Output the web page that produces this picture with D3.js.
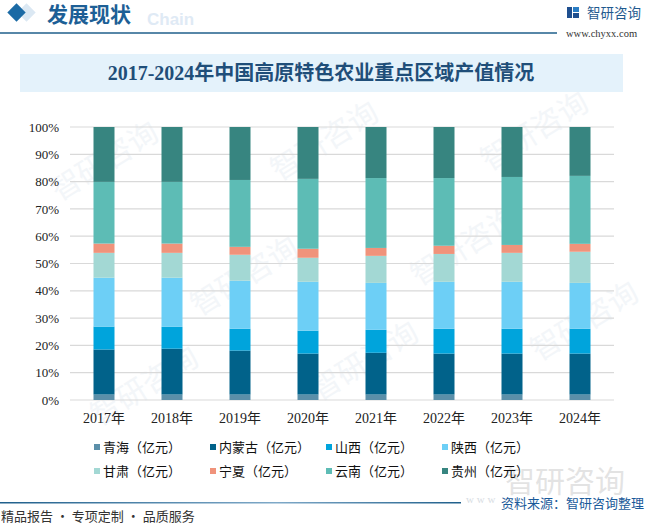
<!DOCTYPE html>
<html><head><meta charset="utf-8">
<script src="https://cdn.jsdelivr.net/npm/d3@7/dist/d3.min.js"></script>
<style>
html,body{margin:0;padding:0;background:#fff;}
svg{display:block;}
</style></head>
<body>
<svg id="chart" width="645" height="526"></svg>
<script>
// ---- data (shares, %) ----
const years = ["2017年","2018年","2019年","2020年","2021年","2022年","2023年","2024年"];
const seriesNames = ["青海（亿元）","内蒙古（亿元）","山西（亿元）","陕西（亿元）","甘肃（亿元）","宁夏（亿元）","云南（亿元）","贵州（亿元）"];
const qinghai   = [2.0, 2.0, 2.0, 2.0, 2.0, 2.0, 2.0, 2.0];
const neimenggu = [16.5,16.8,16.1,15.0,15.3,15.0,15.0,15.0];
const shanxi    = [8.4, 8.0, 8.0, 8.4, 8.4, 9.1, 9.1, 9.1];
const shaanxi   = [17.9,18.0,17.6,17.9,17.2,17.2,17.2,16.8];
const gansu     = [9.1, 9.1, 9.5, 8.8, 9.9,10.2,10.6,11.4];
const ningxia   = [3.4, 3.4, 2.9, 3.3, 2.9, 3.0, 2.9, 2.9];
const yunnan    = [22.6,22.6,24.5,25.6,25.6,24.8,24.9,24.9];
const guizhou   = [20.1,20.1,19.4,19.0,18.7,18.7,18.3,17.9];
const yTicks = [0,0.1,0.2,0.3,0.4,0.5,0.6,0.7,0.8,0.9,1];
const colors = ["#5b8fa9","#01628a","#00a4dc","#6dcff6","#a3d8d4","#f0937b","#5dbcb5","#378580"];

const allSeries = [qinghai, neimenggu, shanxi, shaanxi, gansu, ningxia, yunnan, guizhou];
const table = years.map((y,i)=>{ const o={year:y}; seriesNames.forEach((s,k)=>o[s]=allSeries[k][i]); return o; });

const svg = d3.select("#chart");
const serif = "'Liberation Serif','Noto Sans CJK SC',serif";
const cjk = "'Noto Sans CJK SC','Noto Sans',sans-serif";

// ---- faint watermarks ----
const wm = svg.append("g").attr("fill","#f3f6f9");
[[110,170],[330,150],[540,140],[150,395],[370,370],[590,330],[250,285],[470,255]].forEach(([x,y])=>{
  const g = wm.append("g").attr("transform",`translate(${x},${y}) rotate(-32)`);
  g.append("text").attr("font-family",cjk).attr("font-size",30).attr("text-anchor","middle").text("智研咨询");
});

// ---- header ----
svg.append("rect").attr("x",10).attr("y",6).attr("width",13).attr("height",13).attr("fill","#dbe8f3")
  .attr("transform","translate(10,0) rotate(45 16.5 12.5)");
svg.append("rect").attr("x",10).attr("y",6).attr("width",13).attr("height",13).attr("fill","#1b6aa5")
  .attr("transform","rotate(45 16.5 12.5)");
svg.append("text").attr("x",147).attr("y",25).attr("font-family","'Liberation Sans',Arial,sans-serif").attr("font-weight","bold")
  .attr("font-size",17).attr("fill","#dfeaf5").text("Chain");
svg.append("text").attr("x",47).attr("y",22).attr("font-family",cjk).attr("font-weight","bold")
  .attr("font-size",21).attr("fill","#1d5f96").text("发展现状");
svg.append("line").attr("x1",0).attr("x2",557).attr("y1",33).attr("y2",33).attr("stroke","#1f5f8b").attr("stroke-width",1.5);
// logo
const lg = svg.append("g").attr("fill","#1f4f8f");
lg.append("rect").attr("x",567).attr("y",7).attr("width",5).attr("height",11);
lg.append("rect").attr("x",573).attr("y",7).attr("width",6).attr("height",5).attr("fill","#2a7dc4");
lg.append("rect").attr("x",573).attr("y",13).attr("width",6).attr("height",5);
svg.append("text").attr("x",587).attr("y",18).attr("font-family",cjk).attr("font-size",13.5).attr("fill","#1f5a8f").text("智研咨询");
svg.append("text").attr("x",566).attr("y",37).attr("font-family",serif).attr("font-size",10.5).attr("fill","#333").text("www.chyxx.com");

// ---- title box ----
svg.append("rect").attr("x",20).attr("y",54).attr("width",603).attr("height",38).attr("fill","#e4f2fb");
svg.append("text").attr("x",321).attr("y",80).attr("text-anchor","middle").attr("font-family",serif)
  .attr("font-weight","bold").attr("font-size",20).attr("fill","#1f4e79").text("2017-2024年中国高原特色农业重点区域产值情况");

// ---- scales ----
const x = d3.scaleBand().domain(years).range([70,614]).padding(0);
const y = d3.scaleLinear().domain([0,1]).range([400,127]);
const barW = 21;

// gridlines
svg.append("g").selectAll("line").data(yTicks).join("line")
  .attr("x1",70).attr("x2",614).attr("y1",d=>y(d)).attr("y2",d=>y(d))
  .attr("stroke","#d9d9d9").attr("stroke-width",1.2);

// y axis
const yAxis = d3.axisLeft(y).tickValues(yTicks).tickFormat(d3.format(".0%")).tickSize(0).tickPadding(0);
const yg = svg.append("g").attr("transform","translate(59,0)").call(yAxis);
yg.select(".domain").remove();
yg.selectAll("text").attr("font-family",serif).attr("font-size",13).attr("fill","#222");

// x axis
const xAxis = d3.axisBottom(x).tickSize(0).tickPadding(0);
const xg = svg.append("g").attr("transform","translate(0,413)").call(xAxis);
xg.select(".domain").remove();
xg.selectAll("text").attr("font-family",serif).attr("font-size",14).attr("fill","#222");

// stacked bars
const stack = d3.stack().keys(seriesNames).offset(d3.stackOffsetExpand);
const layers = stack(table);
svg.append("g").selectAll("g").data(layers).join("g").attr("fill",(d,i)=>colors[i])
  .selectAll("rect").data(d=>d).join("rect")
  .attr("x",d=>x(d.data.year)+x.bandwidth()/2-barW/2).attr("width",barW)
  .attr("y",d=>y(d[1])).attr("height",d=>y(d[0])-y(d[1]));

// big watermark bottom-right (behind legend)
svg.append("text").attr("x",505).attr("y",492).attr("font-family",cjk).attr("font-size",30)
  .attr("fill","#c8c8c8").attr("fill-opacity",0.5).text("智研咨询");

// legend
const lgX = [94,210,326,442], lgY = [447,471];
const leg = svg.append("g").selectAll("g").data(seriesNames).join("g")
  .attr("transform",(d,i)=>`translate(${lgX[i%4]},${lgY[Math.floor(i/4)]})`);
leg.append("rect").attr("x",0).attr("y",-3).attr("width",6).attr("height",6).attr("fill",(d,i)=>colors[i]);
leg.append("text").attr("x",9).attr("y",5).attr("font-family",cjk).attr("font-size",13).attr("fill","#111").text(d=>d);

// footer
const grad = svg.append("defs").append("linearGradient").attr("id","fg");
grad.append("stop").attr("offset","0%").attr("stop-color","#1f5f8b");
grad.append("stop").attr("offset","60%").attr("stop-color","#7fa9c8");
grad.append("stop").attr("offset","100%").attr("stop-color","#1f5f8b");
svg.append("rect").attr("x",0).attr("y",502).attr("width",461).attr("height",1.5).attr("fill","url(#fg)");
svg.append("text").attr("x",466).attr("y",503).attr("font-family",serif).attr("font-size",11).attr("fill","#d8dde3").text("w w w");
svg.append("text").attr("x",644).attr("y",508).attr("text-anchor","end").attr("font-family",cjk).attr("font-size",13).attr("fill","#1a5a9a").text("资料来源：智研咨询整理");
svg.append("text").attr("x",1).attr("y",521).attr("font-family",cjk).attr("font-size",13).attr("fill","#333").text("精品报告 · 专项定制 · 品质服务");
</script>
</body></html>
